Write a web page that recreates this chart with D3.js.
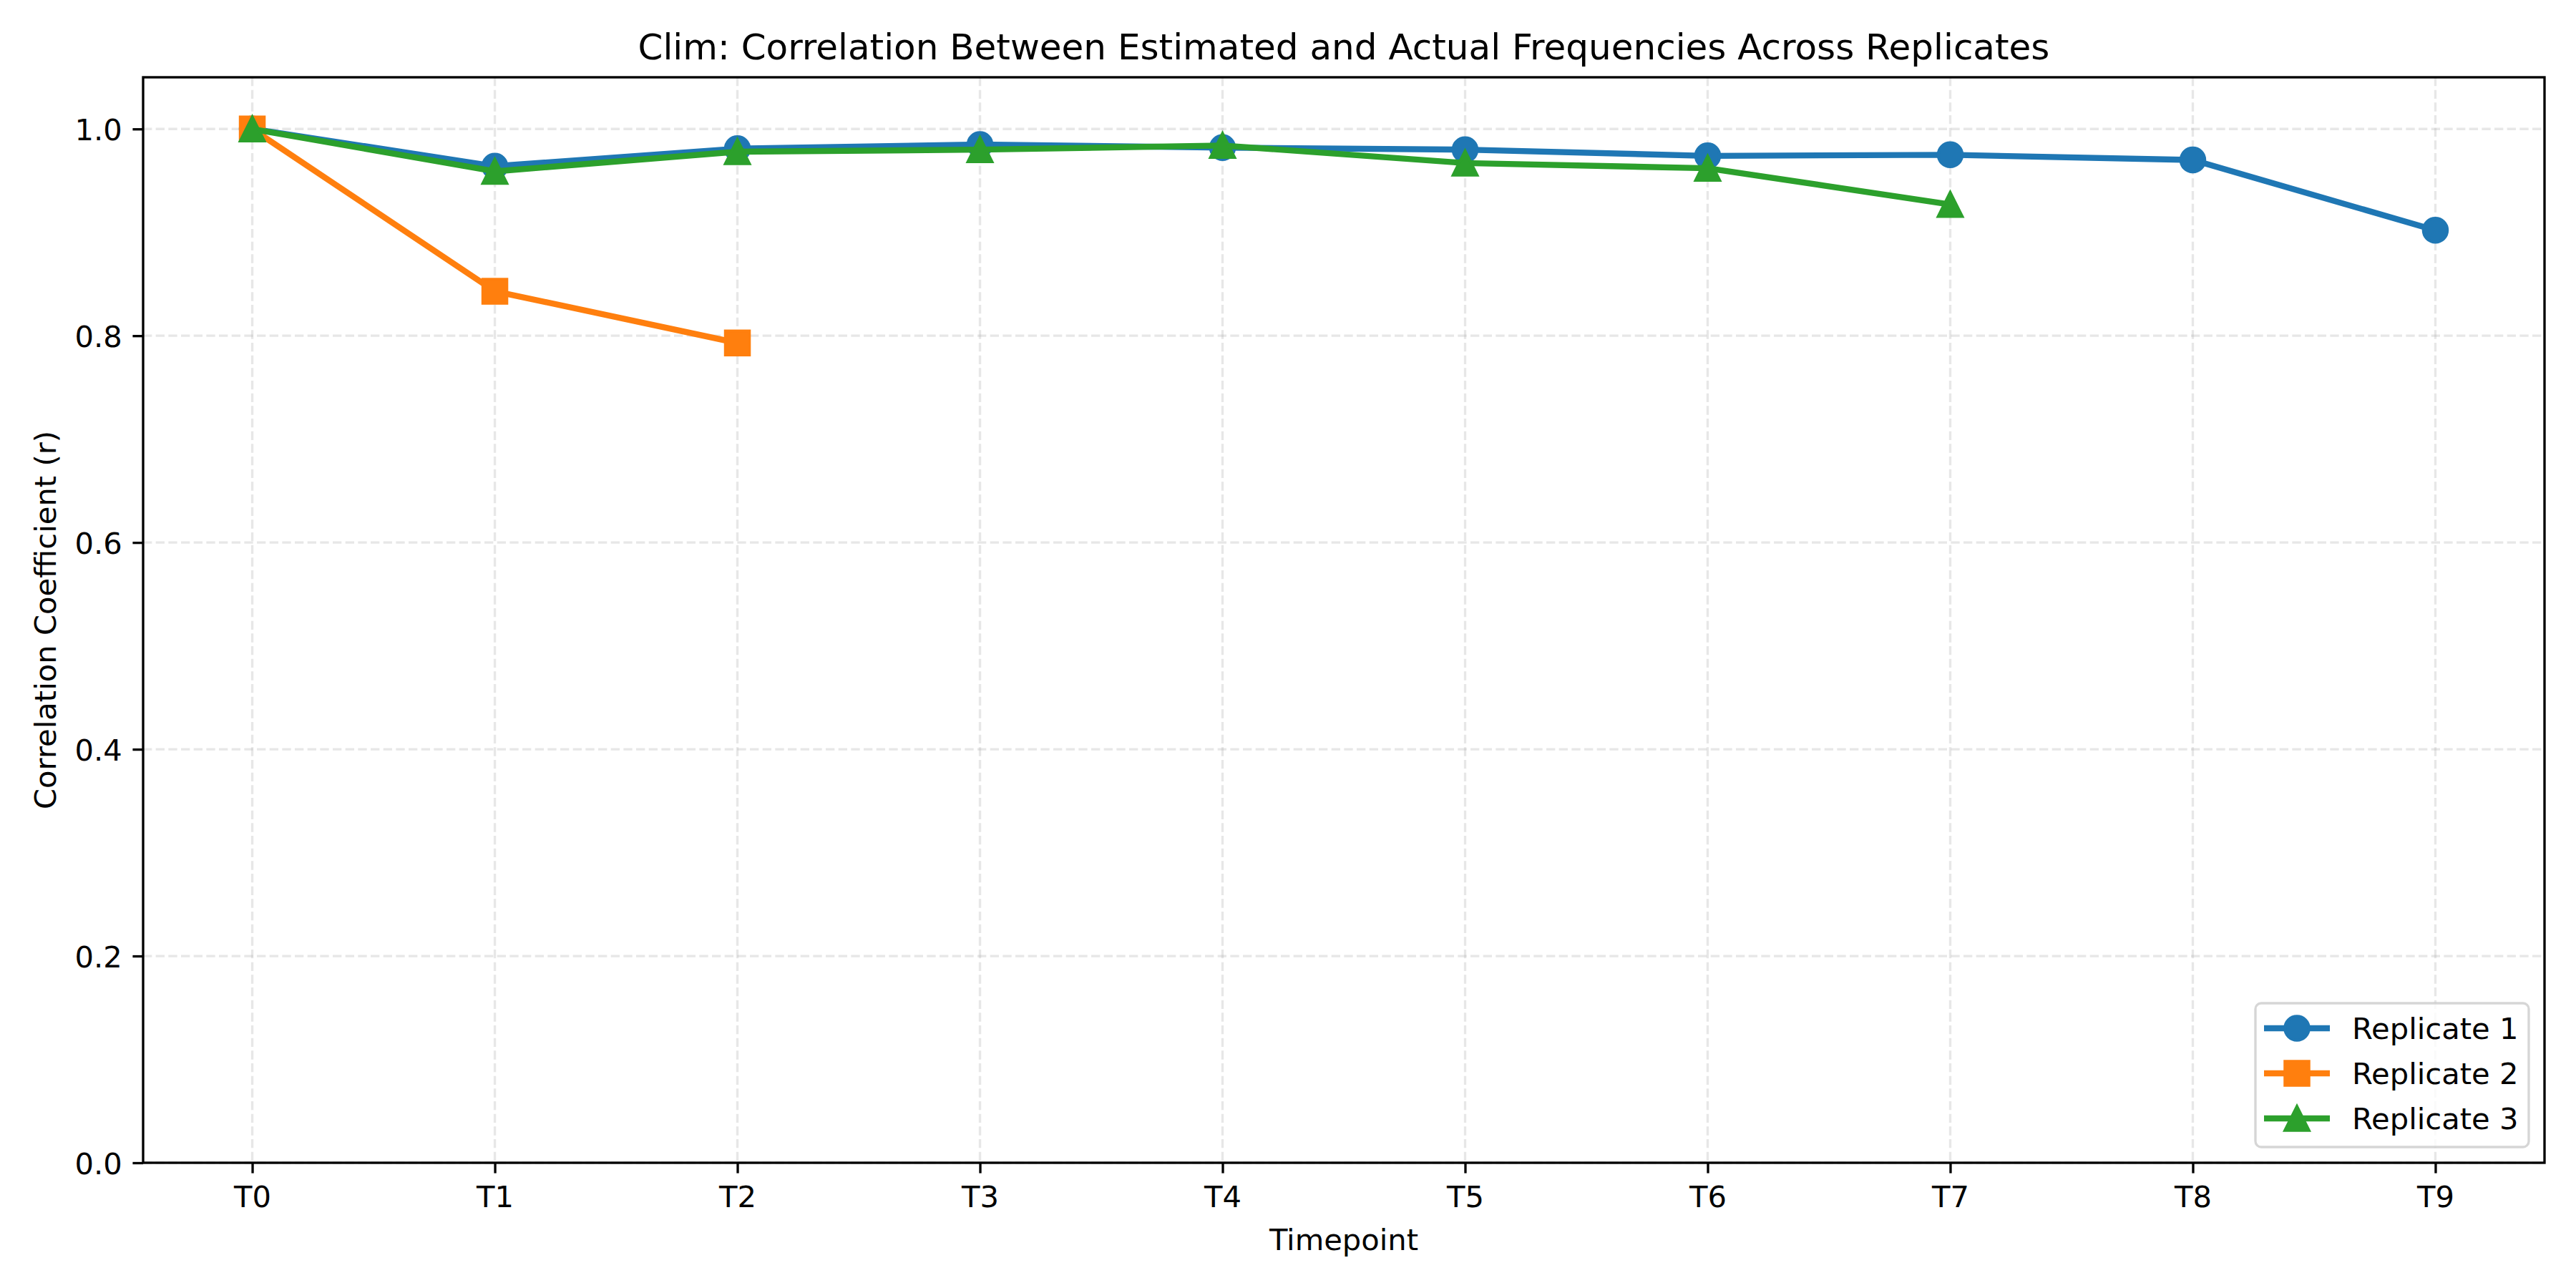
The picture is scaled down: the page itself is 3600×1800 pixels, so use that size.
<!DOCTYPE html>
<html>
<head>
<meta charset="utf-8">
<script src="https://cdn.jsdelivr.net/npm/d3@7"></script>
<style>
  html, body { margin: 0; padding: 0; background: #fff; }
  svg { display: block; font-family: "DejaVu Sans", sans-serif; }
</style>
</head>
<body>
<svg id="chart" width="3600" height="1800"></svg>
<script>
// Data
const timepoints = ['T0', 'T1', 'T2', 'T3', 'T4', 'T5', 'T6', 'T7', 'T8', 'T9'];
const replicate1 = [1.000, 0.964, 0.981, 0.985, 0.982, 0.980, 0.974, 0.975, 0.970, 0.902];
const replicate2 = [1.000, 0.843, 0.793];
const replicate3 = [1.000, 0.959, 0.978, 0.980, 0.984, 0.967, 0.962, 0.927];
const seriesNames = ['Replicate 1', 'Replicate 2', 'Replicate 3'];
const yTicks = [0.0, 0.2, 0.4, 0.6, 0.8, 1.0];

// Styling (matplotlib defaults at 300 dpi)
const colors = ['#1f77b4', '#ff7f0e', '#2ca02c'];
const markers = ['circle', 'square', 'triangle'];
const pt = 300 / 72;
const fontSize = 10 * pt;

const margin = { left: 200, right: 44, top: 108, bottom: 175 };
const W = 3600, H = 1800;

const svg = d3.select('#chart');

const x = d3.scaleLinear()
    .domain([-0.45, timepoints.length - 1 + 0.45])
    .range([margin.left, W - margin.right]);

const y = d3.scaleLinear()
    .domain([0, 1.05])
    .range([H - margin.bottom, margin.top]);

const plotLeft = x.range()[0], plotRight = x.range()[1];
const plotTop = y.range()[1], plotBottom = y.range()[0];

// Grid (dashed, faint)
const grid = svg.append('g').attr('class', 'grid');
grid.selectAll('line.vgrid')
    .data(timepoints.map((d, i) => i))
    .join('line')
    .attr('x1', d => x(d)).attr('x2', d => x(d))
    .attr('y1', plotTop).attr('y2', plotBottom)
    .attr('stroke', '#b0b0b0').attr('stroke-opacity', 0.3)
    .attr('stroke-width', 0.8 * pt)
    .attr('stroke-dasharray', `${3.7 * 0.8 * pt},${1.6 * 0.8 * pt}`);
grid.selectAll('line.hgrid')
    .data(yTicks)
    .join('line')
    .attr('x1', plotLeft).attr('x2', plotRight)
    .attr('y1', d => y(d)).attr('y2', d => y(d))
    .attr('stroke', '#b0b0b0').attr('stroke-opacity', 0.3)
    .attr('stroke-width', 0.8 * pt)
    .attr('stroke-dasharray', `${3.7 * 0.8 * pt},${1.6 * 0.8 * pt}`);

// Marker drawing helper
function drawMarker(sel, type, color) {
    const s = 8 * pt; // marker size
    if (type === 'circle') {
        sel.append('circle').attr('r', s / 2);
    } else if (type === 'square') {
        sel.append('rect').attr('x', -s / 2).attr('y', -s / 2).attr('width', s).attr('height', s);
    } else {
        const h = s / 2;
        sel.append('path').attr('d', `M0,${-h}L${-h},${h}L${h},${h}Z`);
    }
    sel.selectAll('*')
        .attr('fill', color)
        .attr('stroke', color)
        .attr('stroke-width', 1 * pt)
        .attr('stroke-linejoin', 'miter');
}

// Lines with markers
const allSeries = [replicate1, replicate2, replicate3];
const line = d3.line()
    .x((d, i) => x(i))
    .y(d => y(d));

allSeries.forEach((values, k) => {
    const g = svg.append('g').attr('class', 'series');
    g.append('path')
        .datum(values)
        .attr('d', line)
        .attr('fill', 'none')
        .attr('stroke', colors[k])
        .attr('stroke-width', 2 * pt)
        .attr('stroke-linejoin', 'round')
        .attr('stroke-linecap', 'square');
    g.selectAll('g.pt')
        .data(values)
        .join('g')
        .attr('transform', (d, i) => `translate(${x(i)},${y(d)})`)
        .each(function() { drawMarker(d3.select(this), markers[k], colors[k]); });
});

// Axes
const xAxis = d3.axisBottom(x)
    .tickValues(timepoints.map((d, i) => i))
    .tickFormat(i => timepoints[i])
    .tickSize(3.5 * pt)
    .tickPadding(3.5 * pt);
const yAxis = d3.axisLeft(y)
    .tickValues(yTicks)
    .tickFormat(d3.format('.1f'))
    .tickSize(3.5 * pt)
    .tickPadding(3.5 * pt);

const gx = svg.append('g')
    .attr('transform', `translate(0,${plotBottom})`)
    .call(xAxis);
const gy = svg.append('g')
    .attr('transform', `translate(${plotLeft},0)`)
    .call(yAxis);

[gx, gy].forEach(g => {
    g.select('.domain').remove();
    g.selectAll('.tick line').attr('stroke', '#000').attr('stroke-width', 0.8 * pt);
    g.selectAll('.tick text')
        .attr('fill', '#000')
        .attr('font-size', fontSize)
        .attr('font-family', '"DejaVu Sans", sans-serif');
});
gx.selectAll('.tick text').attr('dy', null).attr('y', 3.5 * pt * 2 + 0.78 * fontSize);
gy.selectAll('.tick text').attr('dy', '0.36em');

// Frame (spines)
svg.append('rect')
    .attr('x', plotLeft).attr('y', plotTop)
    .attr('width', plotRight - plotLeft)
    .attr('height', plotBottom - plotTop)
    .attr('fill', 'none')
    .attr('stroke', '#000')
    .attr('stroke-width', 0.8 * pt);

// Title and axis labels
svg.append('text')
    .attr('x', (plotLeft + plotRight) / 2)
    .attr('y', plotTop - 6 * pt)
    .attr('text-anchor', 'middle')
    .attr('font-size', 12 * pt)
    .text('Clim: Correlation Between Estimated and Actual Frequencies Across Replicates');

svg.append('text')
    .attr('x', (plotLeft + plotRight) / 2)
    .attr('y', 1747)
    .attr('text-anchor', 'middle')
    .attr('font-size', fontSize)
    .text('Timepoint');

svg.append('text')
    .attr('transform', `translate(78,${(plotTop + plotBottom) / 2}) rotate(-90)`)
    .attr('text-anchor', 'middle')
    .attr('font-size', fontSize)
    .text('Correlation Coefficient (r)');

// Legend (lower right)
const legW = 382, legH = 201;
const legX = plotRight - 22 - legW, legY = plotBottom - 22 - legH;
const legend = svg.append('g').attr('transform', `translate(${legX},${legY})`);
legend.append('rect')
    .attr('width', legW).attr('height', legH)
    .attr('rx', 8).attr('ry', 8)
    .attr('fill', '#fff').attr('fill-opacity', 0.8)
    .attr('stroke', '#cccccc').attr('stroke-opacity', 0.8)
    .attr('stroke-width', 0.8 * pt);

const rows = legend.selectAll('g.row')
    .data(seriesNames)
    .join('g')
    .attr('transform', (d, i) => `translate(0,${35 + i * 63})`);
rows.append('line')
    .attr('x1', 12).attr('x2', 104)
    .attr('stroke', (d, i) => colors[i])
    .attr('stroke-width', 2 * pt);
rows.each(function(d, i) {
    const m = d3.select(this).append('g').attr('transform', 'translate(58,0)');
    drawMarker(m, markers[i], colors[i]);
});
rows.append('text')
    .attr('x', 135)
    .attr('y', 0.36 * fontSize)
    .attr('font-size', fontSize)
    .text(d => d);
</script>
</body>
</html>
